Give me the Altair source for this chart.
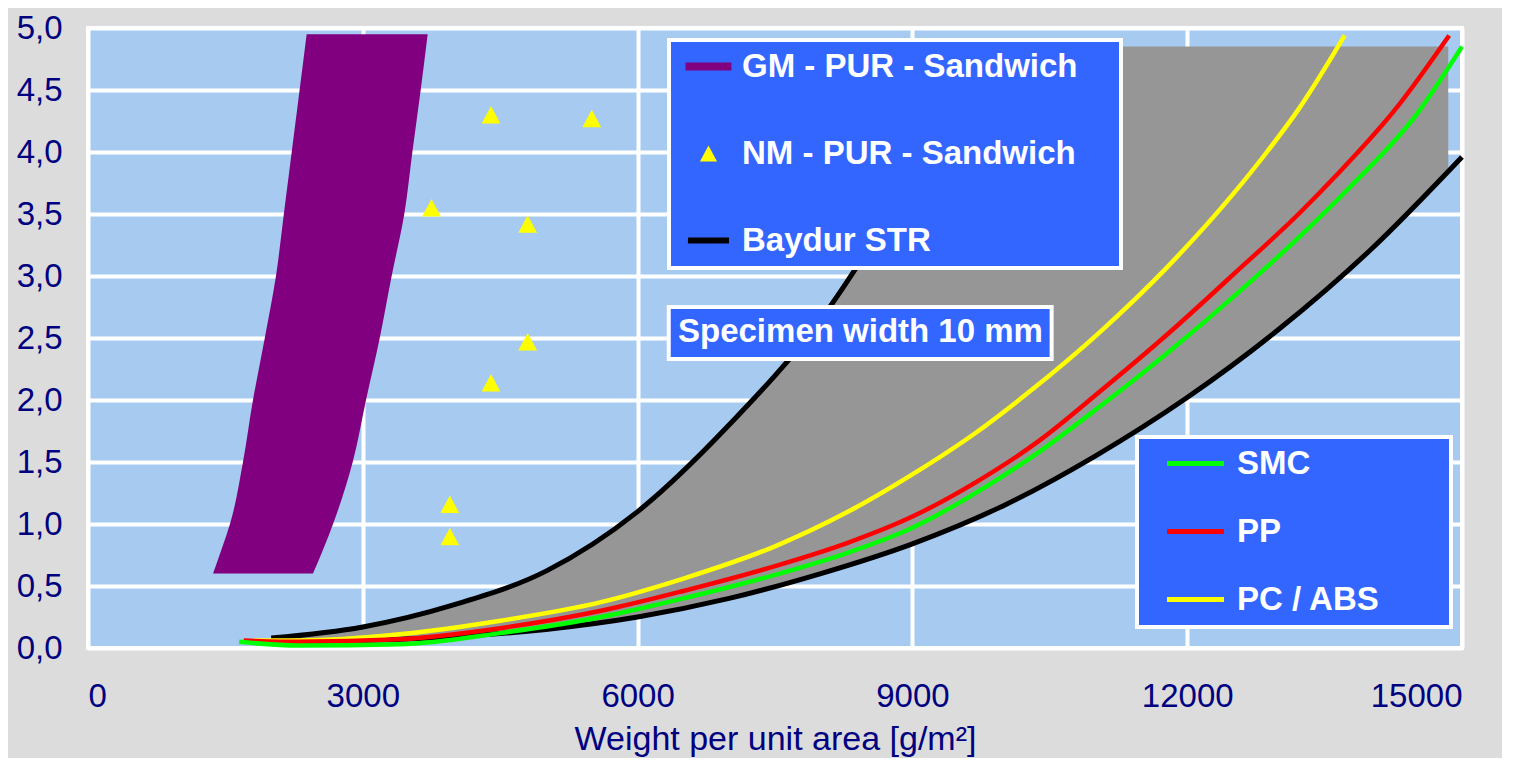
import altair as alt
import pandas as pd

FONT = "Liberation Sans"
NAVY = "#000080"
BLUE = "#3366ff"
PLOT_BG = "#a6caf0"
PAGE_BG = "#dcdcdc"
GREY = "#969696"

# ---------------- data ----------------
X_TICKS = [0, 3000, 6000, 9000, 12000, 15000]
Y_TICKS = [0.0, 0.5, 1.0, 1.5, 2.0, 2.5, 3.0, 3.5, 4.0, 4.5, 5.0]

# GM - PUR - Sandwich band (left / right edge at each strength level)
gm_y = [0.6, 0.8, 1.0, 1.5, 2.0, 2.5, 3.0, 3.5, 4.0, 4.5, 4.95]
gm_left = [1365, 1460, 1550, 1692, 1801, 1930, 2052, 2138, 2224, 2310, 2387]
gm_right = [2456, 2570, 2675, 2890, 3035, 3185, 3315, 3453, 3541, 3632, 3708]

# NM - PUR - Sandwich points
nm_x = [4400, 5500, 3750, 4800, 4800, 4400, 3950, 3950]
nm_y = [4.30, 4.27, 3.55, 3.42, 2.47, 2.14, 1.16, 0.90]

# Baydur STR band (grey) and its boundaries
band_x = [2000, 3000, 4000, 5000, 6000, 7000, 8000, 9000, 9800, 11000, 12000, 13000, 14000, 14850]
band_lo = [0.05, 0.06, 0.09, 0.15, 0.25, 0.40, 0.60, 0.84, 1.09, 1.55, 2.02, 2.57, 3.21, 3.85]
band_hi = [0.08, 0.17, 0.35, 0.62, 1.10, 1.80, 2.65, 3.80, 4.85, 4.85, 4.85, 4.85, 4.85, 4.85]

baydur_up_x = [2000, 3000, 4000, 5000, 6000, 7000, 8000, 9000, 9800]
baydur_up_y = [0.08, 0.17, 0.35, 0.62, 1.10, 1.80, 2.65, 3.80, 4.85]
baydur_lo_x = [2000, 3000, 4000, 5000, 6000, 7000, 8000, 9000, 10000, 11000, 12000, 13000, 14000, 15000]
baydur_lo_y = [0.05, 0.06, 0.09, 0.15, 0.25, 0.40, 0.60, 0.84, 1.15, 1.55, 2.02, 2.57, 3.21, 3.96]

# thermoplastic / SMC curves
pc_x = [1800, 2300, 3400, 4500, 5600, 6500, 7500, 8300, 9000, 9700, 10300, 11050, 11780, 12500, 12870, 13230, 13720]
pc_y = [0.06, 0.06, 0.11, 0.22, 0.37, 0.56, 0.82, 1.10, 1.40, 1.74, 2.08, 2.55, 3.07, 3.66, 4.00, 4.36, 4.94]
pp_x = [1700, 2300, 3400, 4500, 5600, 6500, 7500, 8300, 9000, 9700, 10400, 11050, 11800, 12500, 13230, 13600, 14300, 14860]
pp_y = [0.06, 0.05, 0.07, 0.16, 0.30, 0.46, 0.66, 0.85, 1.06, 1.34, 1.68, 2.07, 2.54, 3.01, 3.51, 3.79, 4.37, 4.94]
smc_x = [1650, 2300, 3400, 4500, 5600, 6500, 7500, 8300, 9000, 9800, 10400, 11050, 11800, 12500, 13230, 13780, 14500, 15000]
smc_y = [0.05, 0.02, 0.03, 0.12, 0.25, 0.40, 0.59, 0.77, 0.97, 1.30, 1.59, 1.95, 2.39, 2.83, 3.32, 3.72, 4.30, 4.85]

LEG1 = ["GM - PUR - Sandwich", "NM - PUR - Sandwich", "Baydur STR"]
LEG2 = ["SMC", "PP", "PC / ABS"]

# annotation box
note_text = ["Specimen width 10 mm"]
note_box = {"x0": [6340], "x1": [10520], "y0": [2.33], "y1": [2.75], "tx": [6441], "ty": [2.55]}

# ---------------- tables ----------------
gm_df = pd.DataFrame({"y": gm_y, "left": gm_left, "right": gm_right, "series": LEG1[0]})
nm_df = pd.DataFrame({"x": nm_x, "y": nm_y, "series": LEG1[1]})
band_df = pd.DataFrame({"x": band_x, "lo": band_lo, "hi": band_hi})
baydur_df = pd.concat([
    pd.DataFrame({"x": baydur_up_x, "y": baydur_up_y, "part": "upper"}),
    pd.DataFrame({"x": baydur_lo_x, "y": baydur_lo_y, "part": "lower"}),
])
curves_df = pd.concat([
    pd.DataFrame({"x": pc_x, "y": pc_y, "series": "PC / ABS"}),
    pd.DataFrame({"x": pp_x, "y": pp_y, "series": "PP"}),
    pd.DataFrame({"x": smc_x, "y": smc_y, "series": "SMC"}),
])
note_df = pd.DataFrame({**note_box, "label": note_text})

# ---------------- scales / axes ----------------
xscale = alt.Scale(domain=[0, 15000], nice=False, zero=False)
yscale = alt.Scale(domain=[0, 5], nice=False, zero=False)
xaxis = alt.Axis(values=X_TICKS, format="d", title="Weight per unit area [g/m²]",
                 grid=True, ticks=False, domain=False, labelPadding=32, titlePadding=9)
yaxis = alt.Axis(values=Y_TICKS, title=None, grid=True, ticks=False, domain=False,
                 labelPadding=26, labelExpr="replace(format(datum.value, '.1f'), '.', ',')")


def X(field):
    return alt.X(field, type="quantitative", scale=xscale, axis=xaxis)


def Y(field):
    return alt.Y(field, type="quantitative", scale=yscale, axis=yaxis)


GM_PATH = "M-1.53,-0.26H1.53V0.26H-1.53Z"
TRI_PATH = "M-0.57,0.53L0,-0.53L0.57,0.53Z"
BAR_PATH = "M-1.37,-0.2H1.37V0.2H-1.37Z"
LINE_PATH = "M-3.8,0H3.8"

color1 = alt.Scale(domain=LEG1, range=["#800080", "#ffff00", "#000000"])
shape1 = alt.Scale(domain=LEG1, range=[GM_PATH, TRI_PATH, BAR_PATH])
pad1 = "\u00a0" + "\u2800"
pad2 = "\u00a0" * 4 + "\u2800"
legend1 = alt.Legend(title=None, orient="none", legendX=581, legendY=12,
                     fillColor=BLUE, strokeColor="white", padding=10,
                     symbolSize=900, symbolOffset=13, labelOffset=17, rowPadding=53,
                     symbolStrokeWidth=0, symbolOpacity=1,
                     labelFont=FONT, labelFontSize=33, labelFontWeight="bold",
                     labelColor="white", labelLimit=800,
                     labelExpr=f"datum.label + '{pad1}'")
legend2 = alt.Legend(title=None, orient="none", legendX=1049, legendY=409,
                     fillColor=BLUE, strokeColor="white", padding=10,
                     symbolType=LINE_PATH, symbolSize=225, symbolStrokeWidth=5,
                     symbolOffset=32, labelOffset=25, rowPadding=34,
                     labelFont=FONT, labelFontSize=33, labelFontWeight="bold",
                     labelColor="white", labelLimit=800,
                     labelExpr=f"datum.label + '{pad2}'")

# ---------------- layers ----------------
gm = alt.Chart(gm_df).mark_area(orient="horizontal", opacity=1, interpolate="monotone").encode(
    y=Y("y"), x=X("left"), x2="right",
    color=alt.Color("series:N", scale=color1, legend=legend1),
)
band = alt.Chart(band_df).mark_area(color=GREY, opacity=1, interpolate="monotone").encode(
    x=X("x"), y=Y("lo"), y2="hi",
)
baydur = alt.Chart(baydur_df).mark_line(color="black", strokeWidth=5, interpolate="monotone").encode(
    x=X("x"), y=Y("y"), detail="part:N",
)
curves = alt.Chart(curves_df).mark_line(strokeWidth=4.5, interpolate="monotone").encode(
    x=X("x"), y=Y("y"),
    stroke=alt.Stroke("series:N", scale=alt.Scale(domain=LEG2, range=["#00ff00", "#ff0000", "#ffff00"]),
                      legend=legend2),
)
nm = alt.Chart(nm_df).mark_point(filled=True, opacity=1, size=1089, strokeWidth=0).encode(
    x=X("x"), y=Y("y"),
    color=alt.Color("series:N", scale=color1, legend=legend1),
    shape=alt.Shape("series:N", scale=shape1, legend=legend1),
)
note_rect = alt.Chart(note_df).mark_rect(fill=BLUE, stroke="white", strokeWidth=4).encode(
    x=X("x0"), x2="x1", y=Y("y0"), y2="y1",
)
note_txt = alt.Chart(note_df).mark_text(align="left", baseline="middle", font=FONT,
                                        fontSize=33, fontWeight="bold", color="white").encode(
    x=X("tx"), y=Y("ty"), text="label:N",
)

chart = alt.layer(gm, band, baydur, curves, nm, note_rect, note_txt).properties(
    width=1374, height=620,
    autosize=alt.AutoSizeParams(type="none"),
    padding={"left": 80, "top": 20, "right": 40, "bottom": 110},
    background=PAGE_BG,
).configure_view(
    fill=PLOT_BG, stroke="white", strokeWidth=4,
).configure_axis(
    gridColor="white", gridWidth=4, gridOpacity=1,
    labelFont=FONT, labelFontSize=33, labelColor=NAVY,
    titleFont=FONT, titleFontSize=34, titleColor=NAVY, titleFontWeight="normal",
).configure_legend(
    strokeWidth=4,
)

chart.save("out.html", embed_options={"renderer": "svg", "actions": False})
